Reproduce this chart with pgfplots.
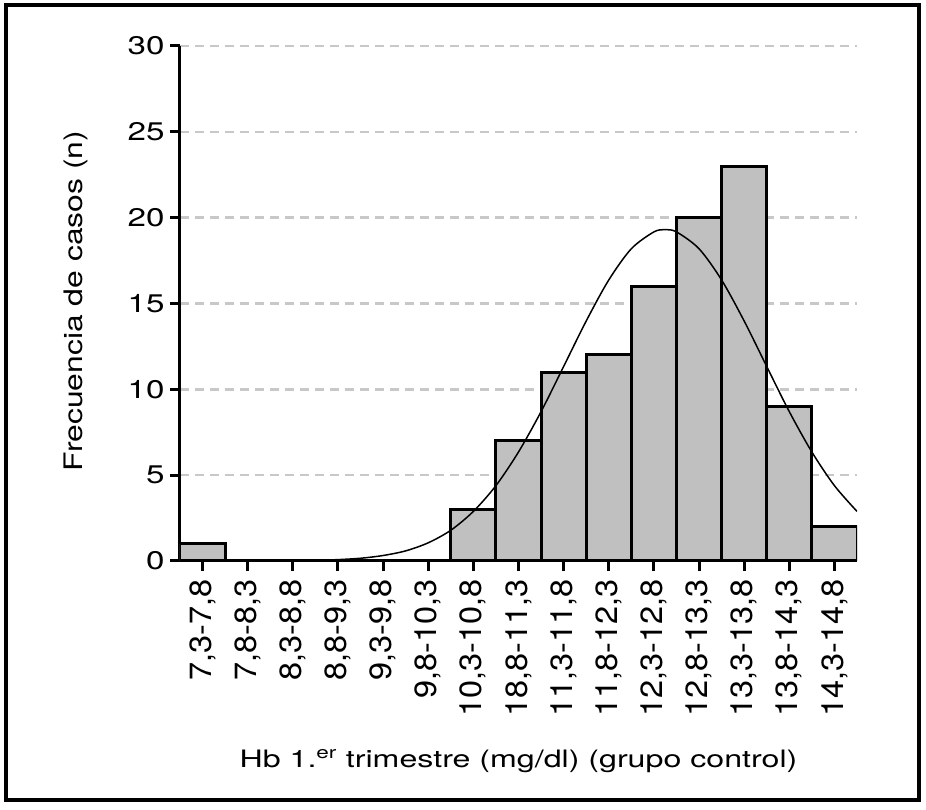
\documentclass[border=0pt]{standalone}
\usepackage{fontspec}
\setmainfont{TeX Gyre Heros}
\newfontfamily\ytfont{TeX Gyre Heros}[FakeStretch=1.3]
\newfontfamily\xtfont{TeX Gyre Heros}[FakeStretch=1.25]
\newfontfamily\xlfont{TeX Gyre Heros}[FakeStretch=1.34]
\newfontfamily\ylwide{TeX Gyre Heros}[FakeStretch=1.25]
\usepackage{pgfplots}
\pgfplotsset{compat=1.18}
\definecolor{barfill}{RGB}{192,192,192}
\definecolor{gridgray}{RGB}{200,200,200}
\begin{document}
\fontsize{25}{30}\selectfont
\begin{tikzpicture}
\path (-180pt,-249pt) rectangle (746pt,561pt);
\draw[line width=4pt] (-174pt,-239pt) rectangle (738.5pt,556pt);
\begin{axis}[
  at={(0pt,0pt)}, anchor=south west,
  scale only axis, width=677pt, height=515pt,
  xmin=-0.5, xmax=14.5, ymin=0, ymax=30,
  axis x line*=bottom, axis y line*=left,
  axis line style={line width=3pt, -},
  xtick={0,...,14},
  xticklabels={{7,3-7,8},{7,8-8,3},{8,3-8,8},{8,8-9,3},{9,3-9,8},{9,8-10,3},{10,3-10,8},{18,8-11,3},{11,3-11,8},{11,8-12,3},{12,3-12,8},{12,8-13,3},{13,3-13,8},{13,8-14,3},{14,3-14,8}},
  ytick={0,5,...,30},
  tick align=outside, major tick length=10pt,
  tick style={line width=3pt, black},
  x tick label style={font=\xtfont\fontsize{26}{30}\selectfont, rotate=90, anchor=east, yscale=1.18},
  y tick label style={font=\ytfont\fontsize{25.5}{30}\selectfont, xshift=3pt},
  ymajorgrids, grid style={gridgray, line width=2.5pt, dash pattern=on 9pt off 6pt},
  /pgf/number format/assume math mode=true,
  ylabel={Frecuencia de casos (n)},
  ylabel style={font=\ylwide\fontsize{25.5}{30}\selectfont, at={(axis description cs:-0.1536,0.505)}, anchor=center},
  xlabel={Hb 1.\textsuperscript{er} trimestre (mg/dl) (grupo control)},
  xlabel style={font=\xlfont\fontsize{24}{28}\selectfont, at={(axis description cs:0.5,0)}, anchor=center, yshift=-200pt},
]
\addplot[ybar, bar width=1, fill=barfill, draw=black, line width=3pt] coordinates {
(0,1) (1,0) (2,0) (3,0) (4,0) (5,0) (6,3) (7,7) (8,11) (9,12) (10,16) (11,20) (12,23) (13,9) (14,2)};
\addplot[smooth, black, line width=1.5pt] coordinates {
(2,0.01) (2.5,0.035) (3,0.08) (3.5,0.16) (4,0.32) (4.5,0.59) (5,1.06) (5.5,1.79) (6,2.89) (6.5,4.39) (7,6.35) (7.5,8.70) (8,11.33) (8.5,13.98) (9,16.37) (9.5,18.19) (10,19.17) (10.25,19.3) (10.5,19.17) (11,18.19) (11.5,16.37) (12,13.98) (12.5,11.33) (13,8.70) (13.5,6.35) (14,4.39) (14.5,2.89)};
\end{axis}
\end{tikzpicture}
\end{document}
